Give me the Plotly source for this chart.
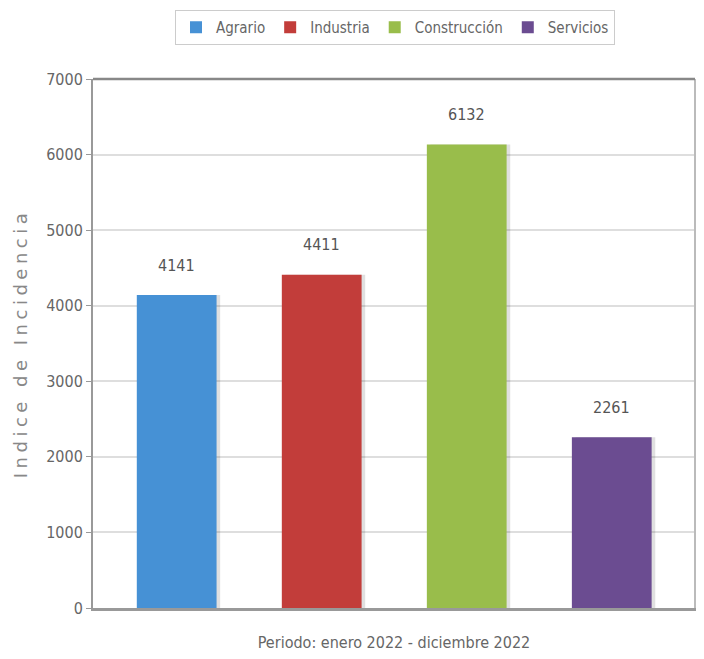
import plotly.graph_objects as go

categories = ["Agrario", "Industria", "Construcción", "Servicios"]
values = [4141, 4411, 6132, 2261]
colors = ["#4691D5", "#C23D3A", "#99BD4B", "#6B4C91"]
y_ticks = [0, 1000, 2000, 3000, 4000, 5000, 6000, 7000]
x_title = "Periodo: enero 2022 - diciembre 2022"
y_title = "Indice de Incidencia"

FONT = "DejaVu Sans Condensed"

fig = go.Figure()
# shadows
for i, (c, v) in enumerate(zip(categories, values)):
    fig.add_trace(go.Bar(x=[i], y=[v], width=0.55, offset=-0.275 + 0.025,
                         marker=dict(color="rgba(0,0,0,0.12)", line=dict(width=0)),
                         showlegend=False, hoverinfo="skip"))
for i, (c, v, col) in enumerate(zip(categories, values, colors)):
    fig.add_trace(go.Bar(x=[i], y=[v], name=c, width=0.55, offset=-0.275,
                         marker=dict(color=col, line=dict(width=0))))
    fig.add_annotation(x=i, y=v, text=str(v), showarrow=False, yshift=30,
                       font=dict(family=FONT, size=16, color="#555"))

# page body has an 8px margin, so the figure is 8px smaller and margins shifted
fig.update_layout(
    width=696, height=651,
    margin=dict(l=85, r=7, t=71, b=51),
    barmode="overlay",
    plot_bgcolor="white", paper_bgcolor="white",
    font=dict(family=FONT, color="#666", size=15),
    legend=dict(orientation="h", xref="container", yref="container",
                x=387/696, xanchor="center", y=1 - 2/651, yanchor="top",
                bordercolor="#cccccc", borderwidth=1, bgcolor="white",
                font=dict(family=FONT, size=15, color="#666"),
                itemwidth=30, traceorder="normal", tracegroupgap=0),
    xaxis=dict(range=[-0.577, 3.574], showticklabels=False, showgrid=False,
               zeroline=False, showline=True, linecolor="#999", linewidth=3,
               mirror=False, ticks="",
               title=dict(text=x_title, font=dict(family=FONT, size=16, color="#666"), standoff=27)),
    yaxis=dict(range=[0, 7000], tickvals=y_ticks, showgrid=True, gridcolor="#dedede",
               gridwidth=1.5, zeroline=False, showline=True, linecolor="#999",
               linewidth=2, mirror=True, ticks="outside", ticklen=5, tickcolor="#999",
               tickfont=dict(family=FONT, size=16, color="#666"),
               title=dict(text='<span style="letter-spacing:4.5px">' + y_title + '</span>',
                          font=dict(family="DejaVu Sans, sans-serif", size=18, color="#888"),
                          standoff=14)),
)
fig.add_shape(type="line", xref="paper", yref="paper", x0=1, x1=1, y0=0, y1=1,
              line=dict(color="#bbb", width=2))
fig.add_shape(type="line", xref="paper", yref="paper", x0=0, x1=1, y0=1, y1=1,
              line=dict(color="#888", width=2.5))
fig.write_html("out.html")
